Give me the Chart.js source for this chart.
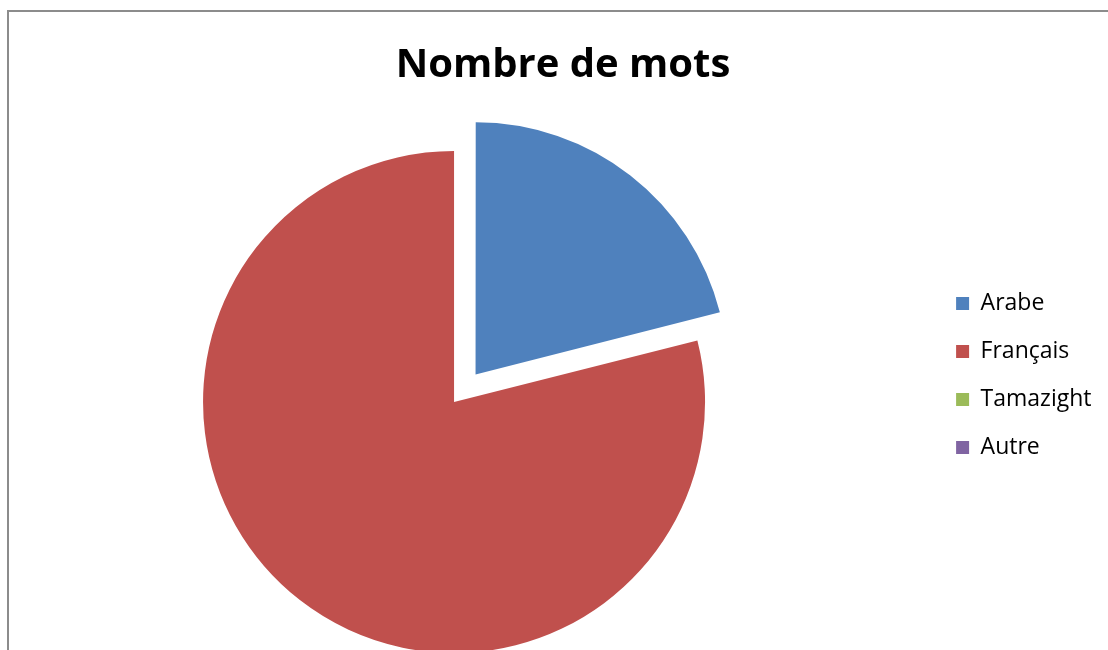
<!DOCTYPE html>
<html>
<head>
<meta charset="utf-8">
<title>Nombre de mots</title>
<script src="https://cdn.jsdelivr.net/npm/chart.js@4.4.1/dist/chart.umd.min.js"></script>
<style>
  html, body { margin: 0; padding: 0; overflow: hidden; background: #fff; }
  #wrap { position: relative; width: 1108px; height: 650px; overflow: hidden; }
  #chart { position: absolute; left: 0; top: 0; }
  /* grey frame of the original chart object, its right and bottom sides are cut off */
  #frame {
    position: absolute; left: 7px; top: 10px; width: 1200px; height: 800px;
    border: 2px solid #8c8c8c; pointer-events: none;
  }
</style>
</head>
<body>
<div id="wrap">
  <canvas id="chart" width="1108" height="650"></canvas>
  <div id="frame"></div>
</div>
<script>
'use strict';

// ── Data ────────────────────────────────────────────────────────
const categories = ['Arabe', 'Français', 'Tamazight', 'Autre'];
const wordCounts = [4, 15, 0, 0];

// ── Style ───────────────────────────────────────────────────────
const COLORS = ['#4F81BD', '#C0504D', '#9BBB59', '#8064A2'];
const FONT = "'Open Sans', 'Liberation Sans', sans-serif";

// first slice is pulled out of the pie
const sliceOffsets = [140, 0, 0, 0];

const ctx = document.getElementById('chart').getContext('2d');

new Chart(ctx, {
  type: 'pie',
  data: {
    labels: categories,
    datasets: [{
      data: wordCounts,
      backgroundColor: COLORS,
      borderWidth: 0,
      offset: sliceOffsets,
      clip: false
    }]
  },
  options: {
    responsive: false,
    animation: false,
    radius: 251,
    layout: {
      padding: { left: 24.5, right: 6.5, top: 0, bottom: 113 }
    },
    plugins: {
      title: {
        display: true,
        text: 'Nombre de mots',
        color: '#000',
        font: { family: FONT, size: 40, weight: 'bold', lineHeight: 1.2 },
        padding: { top: 42, bottom: 177 }
      },
      // empty spacer box between the pie and the legend
      subtitle: {
        display: true,
        text: '',
        position: 'right',
        weight: 500,
        font: { size: 10, lineHeight: 1 },
        padding: { top: 18.75, bottom: 18.75 }
      },
      legend: {
        position: 'right',
        align: 'start',
        fullSize: false,
        labels: {
          color: '#000',
          boxWidth: 13,
          boxHeight: 13,
          padding: 25,
          font: { family: FONT, size: 23 }
        }
      },
      tooltip: { enabled: false }
    }
  }
});
</script>
</body>
</html>
